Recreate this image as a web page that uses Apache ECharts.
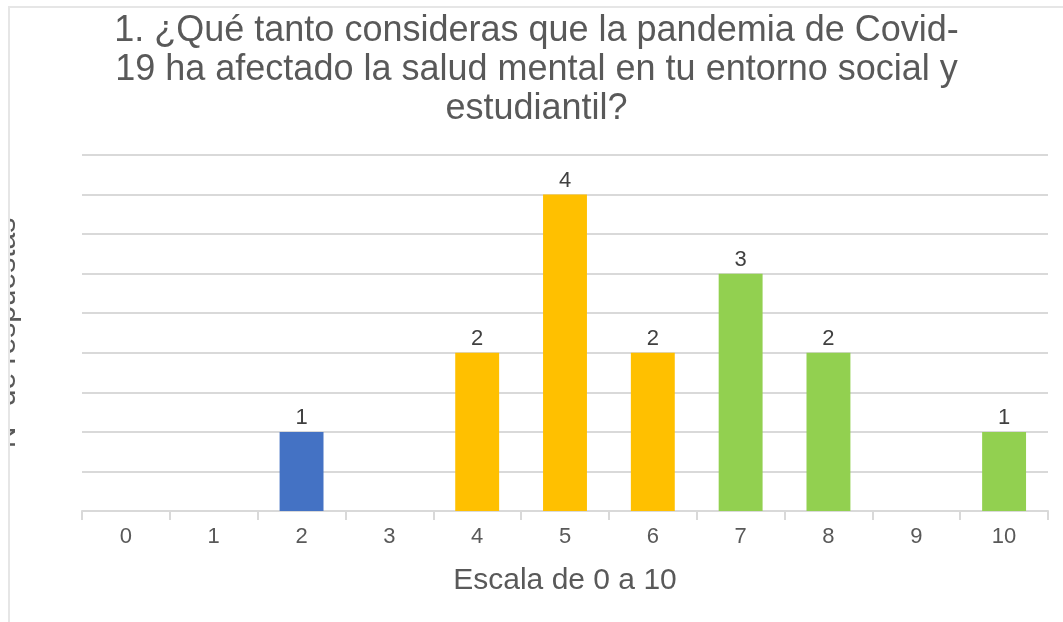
<!DOCTYPE html>
<html>
<head>
<meta charset="utf-8">
<script src="https://cdn.jsdelivr.net/npm/echarts@6/dist/echarts.min.js"></script>
<style>
  html, body { margin: 0; padding: 0; background: #ffffff; width: 1063px; height: 622px; overflow: hidden; }
  #wrap { position: absolute; left: 8px; top: 6px; width: 1053px; height: 614px;
          border-left: 2px solid #e6e6e6; border-top: 2px solid #e6e6e6; overflow: hidden; }
  #chart { width: 1053px; height: 614px; }
</style>
</head>
<body>
<div id="wrap"><div id="chart"></div></div>
<script>
const titleText = '1. ¿Qué tanto consideras que la pandemia de Covid-\n19 ha afectado la salud mental en tu entorno social y\nestudiantil?';
const categories = ['0', '1', '2', '3', '4', '5', '6', '7', '8', '9', '10'];
const respuestas = [0, 0, 1, 0, 2, 4, 2, 3, 2, 0, 1];
const xAxisTitle = 'Escala de 0 a 10';
const yAxisTitle = 'N° de respuestas';

function barColor(cat) {
  const v = Number(cat);
  if (v <= 3) return '#4472C4';
  if (v <= 6) return '#FFC000';
  return '#92D050';
}

const FONT = 'Liberation Sans, Arial, sans-serif';
const chart = echarts.init(document.getElementById('chart'), null, { renderer: 'canvas' });
chart.setOption({
  animation: false,
  backgroundColor: '#ffffff',
  textStyle: { fontFamily: FONT },
  title: {
    text: titleText,
    left: 'center',
    top: 4,
    padding: [0, 0, 0, 18],
    textStyle: {
      fontFamily: FONT,
      fontSize: 36,
      fontWeight: 'normal',
      color: '#595959',
      lineHeight: 39
    }
  },
  grid: { left: 72, right: 15, top: 147, bottom: 111, containLabel: false, outerBoundsMode: 'none' },
  xAxis: {
    type: 'category',
    data: categories,
    name: xAxisTitle,
    nameLocation: 'middle',
    nameGap: 55,
    nameTextStyle: { fontSize: 30, color: '#595959', fontFamily: FONT },
    axisLine: { lineStyle: { color: '#d9d9d9', width: 2 } },
    axisTick: { show: true, length: 9, lineStyle: { color: '#d9d9d9', width: 2 } },
    axisLabel: { fontSize: 22, color: '#595959', margin: 15 }
  },
  yAxis: {
    type: 'value',
    min: 0,
    max: 4.5,
    interval: 0.5,
    name: yAxisTitle,
    nameLocation: 'middle',
    nameGap: 60,
    nameRotate: 90,
    nameTextStyle: { fontSize: 30, color: '#595959', fontFamily: FONT },
    axisLine: { show: false },
    axisTick: { show: false },
    axisLabel: { show: false },
    splitLine: { lineStyle: { color: '#d9d9d9', width: 2 } }
  },
  series: [{
    type: 'bar',
    data: respuestas.map((v, i) => ({ value: v, itemStyle: { color: barColor(categories[i]) } })),
    barWidth: '50%',
    label: {
      show: true,
      position: 'top',
      distance: 3,
      fontSize: 22,
      color: '#404040',
      formatter: p => (p.value ? String(p.value) : '')
    }
  }]
});
</script>
</body>
</html>
